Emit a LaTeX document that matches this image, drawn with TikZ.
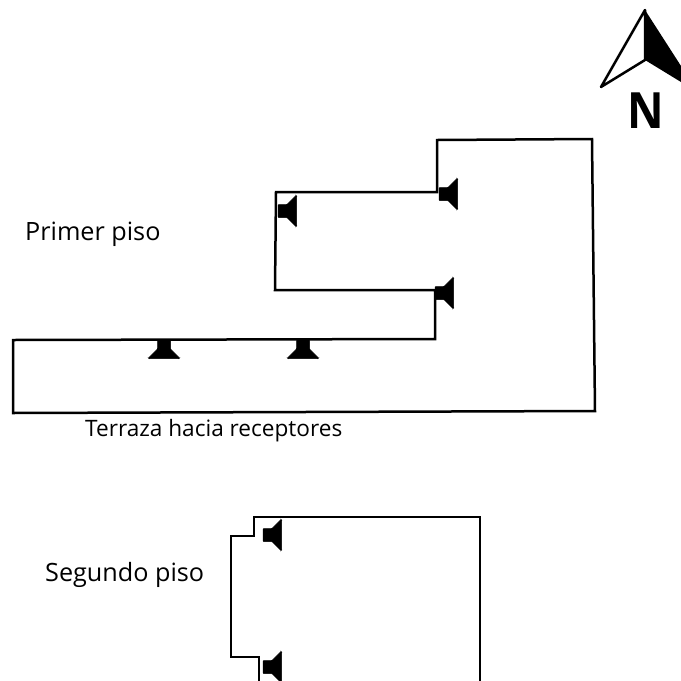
\documentclass[tikz,border=0pt]{standalone}
\usepackage{fontspec}
\setmainfont{Open Sans}
\tikzset{
  wire/.style={draw=black,line width=2.5pt,line join=miter},
  lbl/.style={anchor=base west,inner sep=0pt,text=black},
  pics/speaker/.style={code={
    \filldraw[black,line width=0.5pt,rounded corners=0.8pt] (0,-6.5) -- (9,-6.5) -- (18,-15.5) -- (18.6,-15) -- (18.6,15) -- (18,15.5) -- (9,6.5) -- (0,6.5) -- cycle;
  }}
}
\begin{document}
\begin{tikzpicture}[x=1pt,y=-1pt]
\useasboundingbox (0,0) rectangle (681,681);
% north arrow
\coordinate (apex) at (645,10);
\coordinate (nleft) at (601,87);
\coordinate (ninner) at (645,60);
\fill[black] (apex) -- (681,66) -- (681,82) -- (ninner) -- cycle;
\draw[line width=2.5pt,line join=round] (apex) -- (nleft) -- (ninner) -- cycle;
\node[lbl,xscale=0.9,font=\bfseries\fontsize{50}{50}\selectfont] (north) at (627,128) {N};
% first floor wiring
\coordinate (a1) at (437,192);
\coordinate (a2) at (437,140);
\coordinate (a3) at (592,139);
\coordinate (a4) at (595,411);
\coordinate (a5) at (13,413);
\coordinate (a6) at (13,340);
\coordinate (a7) at (435,339);
\coordinate (a8) at (435,290);
\coordinate (a9) at (275,290);
\coordinate (a10) at (276,192);
\draw[wire] (a1) -- (a2) -- (a3) -- (a4) -- (a5) -- (a6) -- (a7) -- (a8) -- (a9) -- (a10) -- cycle;
\pic at (439,194) {speaker};
\pic at (278,211) {speaker};
\pic at (435,293) {speaker};
\pic[rotate=-90] at (164,340) {speaker};
\pic[rotate=-90] at (303,340) {speaker};
% second floor wiring
\coordinate (b1) at (480,681);
\coordinate (b2) at (480,517);
\coordinate (b3) at (254,517);
\coordinate (b4) at (254,536);
\coordinate (b5) at (231,536);
\coordinate (b6) at (231,657);
\coordinate (b7) at (259,657);
\coordinate (b8) at (259,681);
\draw[wire] (b1) -- (b2) -- (b3) -- (b4) -- (b5) -- (b6) -- (b7) -- (b8);
\pic at (263,535) {speaker};
\pic at (263,667) {speaker};
% labels
\node[lbl,font=\fontsize{25.2}{27}\selectfont] (primer) at (25,240) {Primer piso};
\node[lbl,font=\fontsize{22.6}{27}\selectfont] (terraza) at (85,436) {Terraza hacia receptores};
\node[lbl,font=\fontsize{25.2}{27}\selectfont] (segundo) at (45,581) {Segundo piso};
\end{tikzpicture}
\end{document}
